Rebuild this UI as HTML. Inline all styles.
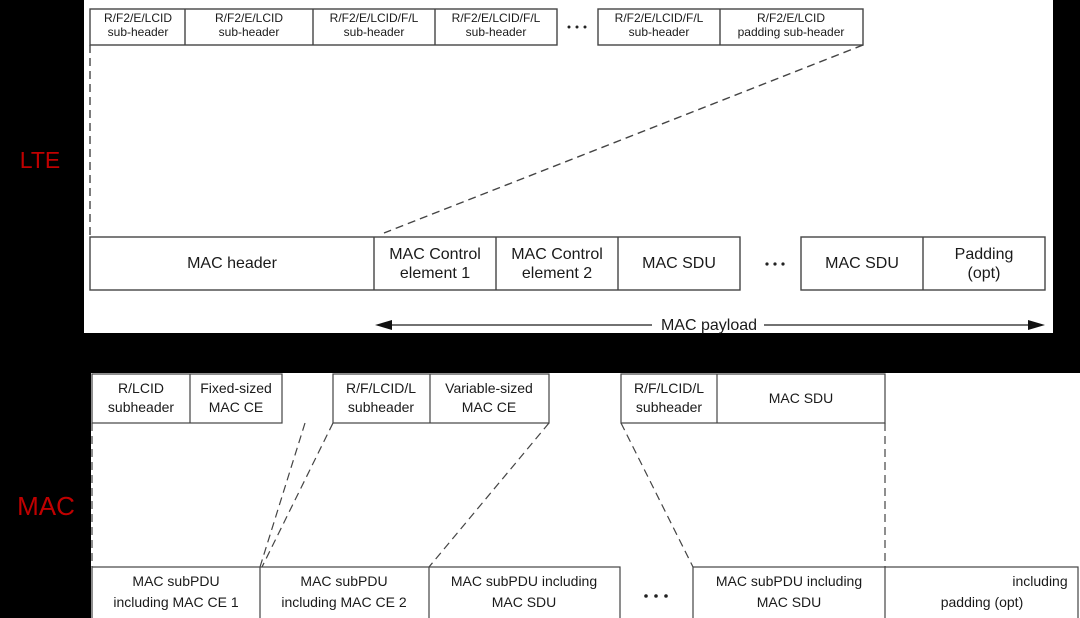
<!DOCTYPE html>
<html><head><meta charset="utf-8"><style>
html,body{margin:0;padding:0;background:#000;}
svg{display:block;}
text{font-family:"Liberation Sans",sans-serif;fill:#1a1a1a;}
</style></head><body>
<svg width="1080" height="618" viewBox="0 0 1080 618" xmlns="http://www.w3.org/2000/svg">
<rect x="0" y="0" width="1080" height="618" fill="#000"/>
<rect x="84" y="0" width="969" height="333" fill="#fff"/>
<rect x="91" y="373" width="989" height="245" fill="#fff"/>
<text x="40" y="168" font-size="23" text-anchor="middle" style="fill:#c00000">LTE</text>
<text x="46" y="515" font-size="26" text-anchor="middle" style="fill:#c00000">MAC</text>
<g fill="none" stroke="#444" stroke-width="1.4">
<rect x="90" y="9" width="467" height="36"/>
<line x1="185" y1="9" x2="185" y2="45"/><line x1="313" y1="9" x2="313" y2="45"/><line x1="435" y1="9" x2="435" y2="45"/>
<rect x="598" y="9" width="265" height="36"/><line x1="720" y1="9" x2="720" y2="45"/>
<rect x="90" y="237" width="650" height="53"/>
<line x1="374" y1="237" x2="374" y2="290"/><line x1="496" y1="237" x2="496" y2="290"/><line x1="618" y1="237" x2="618" y2="290"/>
<rect x="801" y="237" width="244" height="53"/><line x1="923" y1="237" x2="923" y2="290"/>
<g stroke-dasharray="8,5"><line x1="90" y1="45" x2="90" y2="237"/><line x1="863" y1="45" x2="384" y2="233"/></g>
<line x1="385" y1="325" x2="1035" y2="325"/>
</g>
<polygon points="375,325 392,320 392,330" fill="#111"/>
<polygon points="1045,325 1028,320 1028,330" fill="#111"/>
<rect x="652" y="316" width="112" height="16" fill="#fff"/>
<g font-size="12" text-anchor="middle">
<text x="138" y="22">R/F2/E/LCID</text><text x="138" y="36">sub-header</text>
<text x="249" y="22">R/F2/E/LCID</text><text x="249" y="36">sub-header</text>
<text x="374" y="22">R/F2/E/LCID/F/L</text><text x="374" y="36">sub-header</text>
<text x="496" y="22">R/F2/E/LCID/F/L</text><text x="496" y="36">sub-header</text>
<text x="659" y="22">R/F2/E/LCID/F/L</text><text x="659" y="36">sub-header</text>
<text x="791" y="22">R/F2/E/LCID</text><text x="791" y="36">padding sub-header</text>
</g>
<g fill="#222"><circle cx="569" cy="27" r="1.5"/><circle cx="577" cy="27" r="1.5"/><circle cx="585" cy="27" r="1.5"/>
<circle cx="767" cy="264" r="1.6"/><circle cx="775" cy="264" r="1.6"/><circle cx="783" cy="264" r="1.6"/>
<circle cx="646" cy="596" r="1.8"/><circle cx="656" cy="596" r="1.8"/><circle cx="666" cy="596" r="1.8"/></g>
<g font-size="16" text-anchor="middle">
<text x="232" y="268">MAC header</text>
<text x="435" y="259">MAC Control</text><text x="435" y="278">element 1</text>
<text x="557" y="259">MAC Control</text><text x="557" y="278">element 2</text>
<text x="679" y="268">MAC SDU</text>
<text x="862" y="268">MAC SDU</text>
<text x="984" y="259">Padding</text><text x="984" y="278">(opt)</text>
<text x="709" y="330">MAC payload</text>
</g>
<g fill="none" stroke="#444" stroke-width="1.2">
<rect x="92" y="374" width="190" height="49"/><line x1="190" y1="374" x2="190" y2="423"/>
<rect x="333" y="374" width="216" height="49"/><line x1="430" y1="374" x2="430" y2="423"/>
<rect x="621" y="374" width="264" height="49"/><line x1="717" y1="374" x2="717" y2="423"/>
<rect x="92" y="567" width="528" height="52"/><line x1="260" y1="567" x2="260" y2="618"/><line x1="429" y1="567" x2="429" y2="618"/>
<rect x="693" y="567" width="385" height="52"/><line x1="885" y1="567" x2="885" y2="618"/>
<g stroke-dasharray="8,5">
<line x1="92" y1="423" x2="92" y2="567"/><line x1="305" y1="423" x2="260" y2="567"/>
<line x1="333" y1="423" x2="262" y2="567"/><line x1="549" y1="423" x2="429" y2="567"/>
<line x1="621" y1="423" x2="693" y2="567"/><line x1="885" y1="423" x2="885" y2="567"/>
</g></g>
<g font-size="14" text-anchor="middle">
<text x="141" y="393">R/LCID</text><text x="141" y="412">subheader</text>
<text x="236" y="393">Fixed-sized</text><text x="236" y="412">MAC CE</text>
<text x="381" y="393">R/F/LCID/L</text><text x="381" y="412">subheader</text>
<text x="489" y="393">Variable-sized</text><text x="489" y="412">MAC CE</text>
<text x="669" y="393">R/F/LCID/L</text><text x="669" y="412">subheader</text>
<text x="801" y="403">MAC SDU</text>
<text x="176" y="586">MAC subPDU</text><text x="176" y="607">including MAC CE 1</text>
<text x="344" y="586">MAC subPDU</text><text x="344" y="607">including MAC CE 2</text>
<text x="524" y="586">MAC subPDU including</text><text x="524" y="607">MAC SDU</text>
<text x="789" y="586">MAC subPDU including</text><text x="789" y="607">MAC SDU</text>
<text x="1040" y="586">including</text><text x="982" y="607">padding (opt)</text>
</g>
</svg>
</body></html>
